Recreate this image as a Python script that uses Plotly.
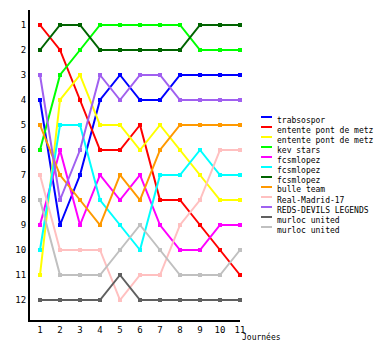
import plotly.graph_objects as go

journees = list(range(1, 12))
ranks = list(range(1, 13))

names = ["trabsospor", "entente pont de metz", "entente pont de metz", "kev stars",
         "fcsmlopez", "fcsmlopez", "fcsmlopez", "bulle team", "Real-Madrid-17",
         "REDS-DEVILS LEGENDS", "murloc united", "murloc united"]
colors = ["#0000ff", "#ff0000", "#ffff00", "#00ff00", "#ff00ff", "#00ffff",
          "#006400", "#ff9900", "#ffc0c0", "#a060f0", "#606060", "#c0c0c0"]

trabsospor = [4, 9, 7, 4, 3, 4, 4, 3, 3, 3, 3]
entente_red = [1, 2, 4, 6, 6, 5, 8, 8, 9, 10, 11]
entente_yellow = [11, 4, 3, 5, 5, 6, 5, 6, 7, 8, 8]
kev_stars = [6, 3, 2, 1, 1, 1, 1, 1, 2, 2, 2]
fcsm_magenta = [9, 6, 9, 7, 8, 7, 9, 10, 10, 9, 9]
fcsm_cyan = [10, 5, 5, 8, 9, 10, 7, 7, 6, 7, 7]
fcsm_green = [2, 1, 1, 2, 2, 2, 2, 2, 1, 1, 1]
bulle_team = [5, 7, 8, 9, 7, 8, 6, 5, 5, 5, 5]
real_madrid = [7, 10, 10, 10, 12, 11, 11, 9, 8, 6, 6]
reds_devils = [3, 8, 6, 3, 4, 3, 3, 4, 4, 4, 4]
murloc_dark = [12, 12, 12, 12, 11, 12, 12, 12, 12, 12, 12]
murloc_light = [8, 11, 11, 11, 10, 9, 10, 11, 11, 11, 10]

series = [trabsospor, entente_red, entente_yellow, kev_stars, fcsm_magenta, fcsm_cyan,
          fcsm_green, bulle_team, real_madrid, reds_devils, murloc_dark, murloc_light]

FONT = "DejaVu Sans Mono"

fig = go.Figure()
for name, color, vals in zip(names, colors, series):
    fig.add_trace(go.Scatter(
        x=journees, y=vals, name=name, mode="lines+markers",
        line=dict(color=color, width=2),
        marker=dict(color=color, size=4, symbol="square", line=dict(width=0)),
        cliponaxis=False, showlegend=False))

# custom compact legend
L, T, W, H = 30, 10, 210, 310
for i, (name, color) in enumerate(zip(names, colors)):
    ypx = 120 + 10 * i
    yp = (T + H - ypx) / H
    fig.add_shape(type="line", xref="paper", yref="paper",
                  x0=(261 - L) / W, x1=(272 - L) / W,
                  y0=yp + 3 / H, y1=yp + 3 / H,
                  line=dict(color=color, width=2))
    fig.add_annotation(xref="paper", yref="paper", x=(275 - L) / W, y=yp,
                       text=name, showarrow=False, xanchor="left", yanchor="middle",
                       font=dict(family=FONT, size=8, color="black"))

fig.add_annotation(xref="paper", yref="paper", x=1, y=(T + H - 337) / H,
                   text="Journées", showarrow=False, xanchor="left", yanchor="middle",
                   font=dict(family=FONT, size=8, color="black"))

fig.update_layout(
    width=380, height=350,
    margin=dict(l=L, r=380 - L - W, t=T, b=350 - T - H),
    paper_bgcolor="white", plot_bgcolor="white",
    font=dict(family=FONT, size=9, color="black"),
    xaxis=dict(range=[0.5, 11], tickvals=journees, showgrid=False, zeroline=False,
               showline=True, linecolor="black", linewidth=2, ticks="",
               ticklabelstandoff=0,
               tickfont=dict(family=FONT, size=9)),
    yaxis=dict(range=[12.8, 0.4], tickvals=ranks, showgrid=False, zeroline=False,
               showline=True, linecolor="black", linewidth=2, ticks="",
               tickfont=dict(family=FONT, size=9)),
    showlegend=False,
)

fig.write_html("out.html")
